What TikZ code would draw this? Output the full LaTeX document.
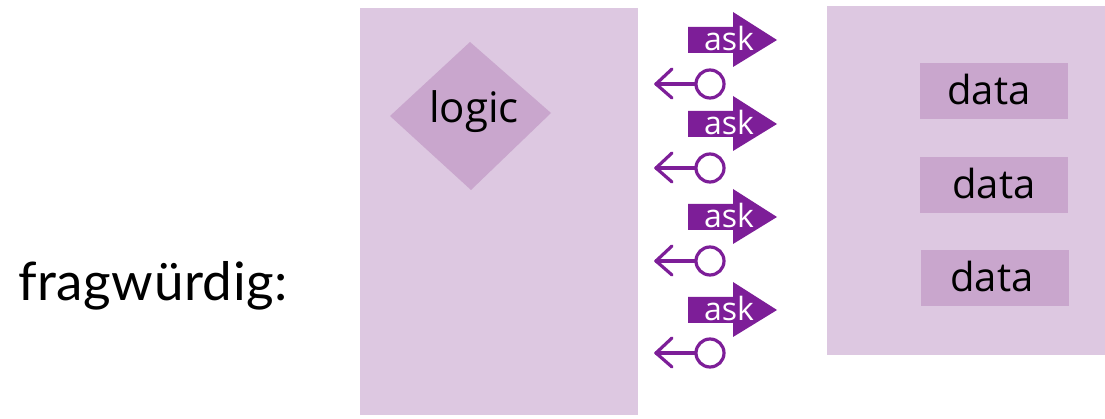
\documentclass[tikz,border=0pt]{standalone}
\usepackage{fontspec}
\setmainfont{Open Sans}
\newfontfamily\labelfont[LetterSpace=1]{Lato}
\usetikzlibrary{shapes.geometric,calc}
\definecolor{boxlight}{HTML}{DDC8E1}
\definecolor{boxdark}{HTML}{C9A6CD}
\definecolor{arrowpurple}{HTML}{7D1E98}
\tikzset{
  panel/.style={fill=boxlight, draw=none, inner sep=0pt, anchor=north west},
  datbox/.style={fill=boxdark, draw=none, inner sep=0pt, minimum width=148pt, minimum height=56pt},
  datatext/.style={font=\fontsize{40}{42}\selectfont, inner sep=0pt},
  askfill/.style={fill=arrowpurple, draw=none},
  asktext/.style={text=white, font=\fontsize{32}{34}\selectfont, inner sep=0pt},
  retline/.style={draw=arrowpurple, line width=3.2pt, line cap=round, line join=round},
}
\begin{document}
\begin{tikzpicture}[x=1pt,y=-1pt]
\useasboundingbox (0,0) rectangle (1105,419);
% panels
\node[panel, minimum width=278pt, minimum height=407pt] (left) at (360,8) {};
\node[panel, minimum width=278pt, minimum height=349pt] (right) at (827,6) {};
% logic diamond
\fill[boxdark] (390,116) -- (470,42) -- (551,113) -- (471,190) -- cycle;
\node[font=\fontsize{42}{44}\selectfont, inner sep=0pt] (logic) at (474,112) {logic};
% data boxes
\node[datbox] (d1) at (994,91) {};
\node[datbox] (d2) at (994,185) {};
\node[datbox] (d3) at (995,278) {};
\node[datatext] (dt1) at (989,90) {data};
\node[datatext] (dt2) at (994,184) {data};
\node[datatext] (dt3) at (992,277) {data};
% label
\node[font=\labelfont\fontsize{53}{55}\selectfont, inner sep=0pt] (frag) at (153,286) {fragwürdig:};
% ask arrows and returns
\foreach \i/\ya/\yr in {1/40/84, 2/124/168, 3/217/261, 4/310/353}{
  \fill[askfill] (688,\ya-13) -- (733,\ya-13) -- (733,\ya-28) -- (777,\ya) -- (733,\ya+27) -- (733,\ya+13) -- (688,\ya+13) -- cycle;
  \node[asktext] (ask\i) at (729,\ya-1) {ask};
  \node[circle, retline, minimum size=28pt, inner sep=0pt] (c\i) at (710,\yr) {};
  \coordinate (t\i) at (656,\yr);
  \draw[retline] (c\i.west) -- (t\i);
  \draw[retline] ($(t\i)+(16,-15)$) -- (t\i) -- ($(t\i)+(16,14)$);
}
\end{tikzpicture}
\end{document}
